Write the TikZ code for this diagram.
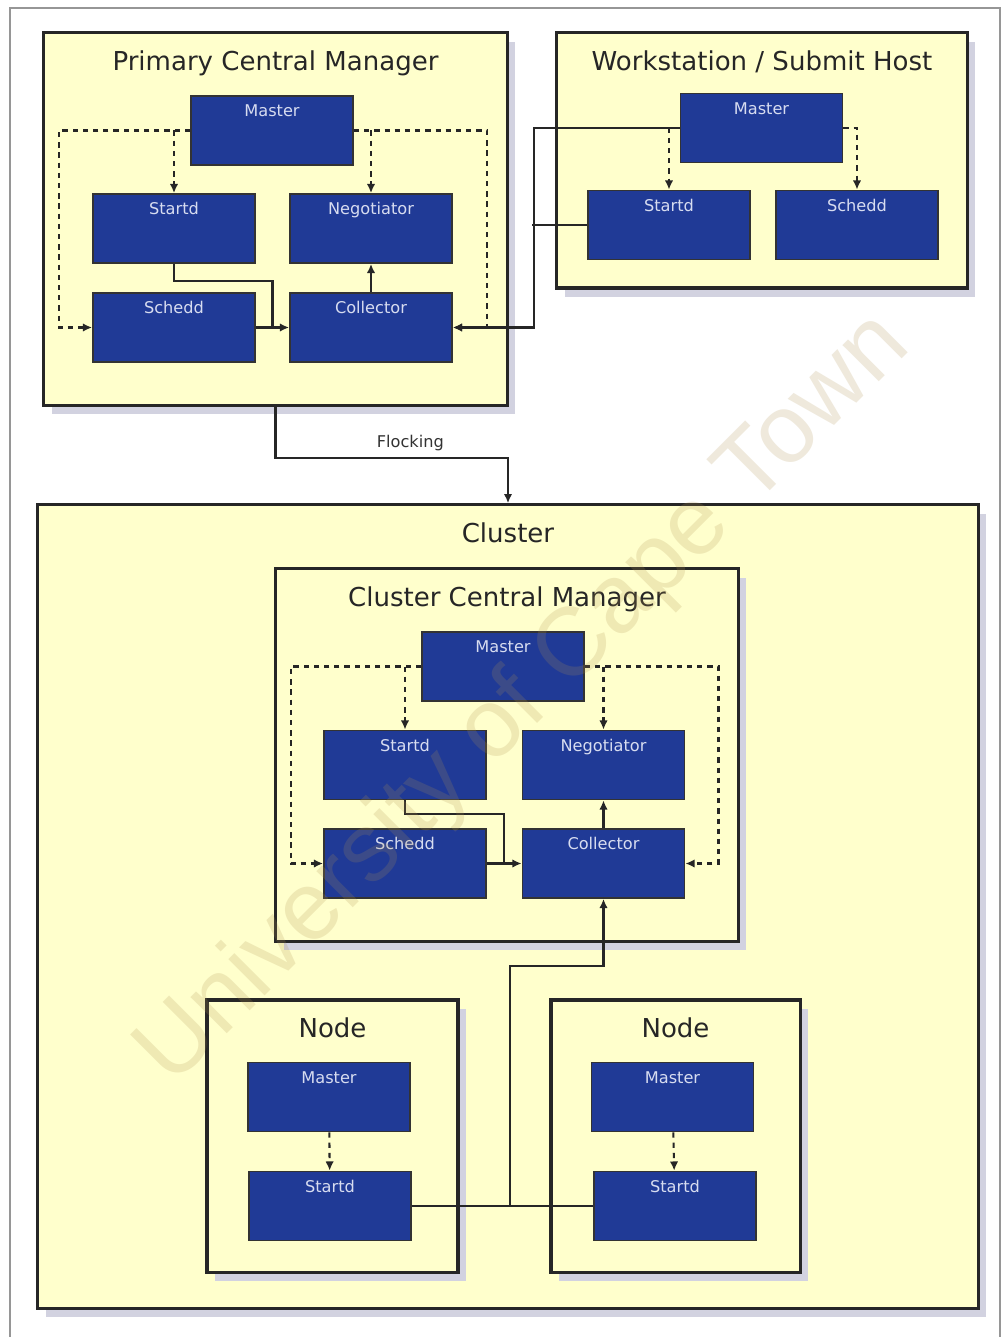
\documentclass[tikz,border=0pt]{standalone}
\usepackage{fontspec}
\setmainfont{DejaVu Sans}
\newfontfamily\wmfont{Liberation Sans}
\usetikzlibrary{arrows.meta,calc,positioning,shadows}

\definecolor{hostfill}{RGB}{255,255,204}
\definecolor{daemonfill}{RGB}{32,58,150}
\definecolor{daemontext}{RGB}{215,220,240}
\definecolor{shadowc}{RGB}{210,210,224}
\definecolor{framegray}{RGB}{150,150,150}
\definecolor{wmcolor}{RGB}{175,145,80}

\tikzset{
  host/.style={draw=black!85, line width=0.9pt, fill=hostfill, inner sep=0pt,
    drop shadow={shadow xshift=0.08cm, shadow yshift=-0.09cm, fill=shadowc, opacity=1}},
  hosttitle/.style={anchor=base, inner sep=0pt, text=black!85,
    font=\fontsize{7.4}{9}\selectfont},
  daemon/.style={draw=black!80, line width=0.5pt, fill=daemonfill, text=daemontext,
    minimum width=1.62cm, minimum height=0.69cm, inner sep=0pt,
    text height=0.17cm, text depth=0.44cm, font=\fontsize{4.6}{5}\selectfont},
  link/.style={line width=0.6pt, draw=black!85},
  ctl/.style={link, dash pattern=on 1.5pt off 1.4pt},
  flocklbl/.style={above, inner sep=1.5pt, text=black!80, font=\fontsize{4.6}{5}\selectfont}
}

\begin{document}
\begin{tikzpicture}[x=0.01cm,y=-0.01cm,>={Latex[length=2.6pt,width=2.4pt]}]
\useasboundingbox (0,0) rectangle (1006,1337);
\fill[white] (0,0) rectangle (1006,1337);
\draw[framegray, line width=0.6pt] (10,1345) |- (1000,8) -- (1000,1345);

% hosts
\node[host, minimum width=4.63cm, minimum height=3.72cm] (pcm) at (275.5,219) {};
\node[hosttitle] (pcmtitle) at ([yshift=-0.39cm]pcm.north) {Primary Central Manager};
\node[host, minimum width=4.10cm, minimum height=2.55cm] (ws) at (762,160.5) {};
\node[hosttitle] (wstitle) at ([yshift=-0.39cm]ws.north) {Workstation / Submit Host};
\node[host, minimum width=9.40cm, minimum height=8.03cm] (cluster) at (508,906.5) {};
\node[hosttitle] (clustertitle) at ([yshift=-0.39cm]cluster.north) {Cluster};
\node[host, minimum width=4.62cm, minimum height=3.72cm] (ccm) at (507,755) {};
\node[hosttitle] (ccmtitle) at ([yshift=-0.39cm]ccm.north) {Cluster Central Manager};
\node[host, minimum width=2.51cm, minimum height=2.72cm] (nodea) at (332.5,1136) {};
\node[hosttitle] (nodeatitle) at ([yshift=-0.39cm]nodea.north) {Node};
\node[host, minimum width=2.49cm, minimum height=2.72cm] (nodeb) at (675.5,1136) {};
\node[hosttitle] (nodebtitle) at ([yshift=-0.39cm]nodeb.north) {Node};

% primary central manager
\node[daemon] (pmaster) at (272,130.5) {Master};
\node[daemon] (pstartd) at (174,228.5) {Startd};
\node[daemon] (pnego) at (371,228.5) {Negotiator};
\node[daemon] (pschedd) at (174,327.5) {Schedd};
\node[daemon] (pcoll) at (371,327.5) {Collector};
\draw[ctl,->] (pmaster.west) -| ([xshift=-0.33cm]pschedd.west) -- (pschedd.west);
\draw[ctl,->] (pstartd.north |- pmaster.west) -- (pstartd.north);
\draw[ctl,->] (pmaster.east) -| ([xshift=0.34cm]pcoll.east) -- (pcoll.east);
\draw[ctl,->] (pnego.north |- pmaster.east) -- (pnego.north);
\draw[link] (pstartd.south) -- ++(0,17) -| ($(pschedd.east)!.5!(pcoll.west)$);
\draw[link,->] (pschedd.east) -- (pcoll.west);
\draw[link,->] (pcoll.north) -- (pnego.south);

% workstation
\node[daemon] (wmaster) at (761.5,128) {Master};
\node[daemon] (wstartd) at (669,225) {Startd};
\node[daemon] (wschedd) at (857,225) {Schedd};
\draw[ctl,->] (wmaster.west) -| (wstartd.north);
\draw[ctl,->] (wmaster.east) -| (wschedd.north);
\draw[link,->] (wmaster.west) -| ([xshift=0.81cm]pcoll.east) -- (pcoll.east);
\draw[link] (wstartd.west) -- ++(-55,0);

% flocking
\draw[link,->] (pcm.south) -- ++(0,51) -| node[flocklbl, pos=0.29] (flock) {Flocking} (cluster.north);

% cluster central manager
\node[daemon] (cmaster) at (503,666.5) {Master};
\node[daemon] (cstartd) at (405,765) {Startd};
\node[daemon] (cnego) at (603.5,765) {Negotiator};
\node[daemon] (cschedd) at (405,863.5) {Schedd};
\node[daemon] (ccoll) at (603.5,863.5) {Collector};
\draw[ctl,->] (cmaster.west) -| ([xshift=-0.32cm]cschedd.west) -- (cschedd.west);
\draw[ctl,->] (cstartd.north |- cmaster.west) -- (cstartd.north);
\draw[ctl,->] (cmaster.east) -| ([xshift=0.33cm]ccoll.east) -- (ccoll.east);
\draw[ctl,->] (cnego.north |- cmaster.east) -- (cnego.north);
\draw[link] (cstartd.south) -- ++(0,14) -| ($(cschedd.east)!.5!(ccoll.west)$);
\draw[link,->] (cschedd.east) -- (ccoll.west);
\draw[link,->] (ccoll.north) -- (cnego.south);

% execute nodes
\node[daemon] (amaster) at (329,1097) {Master};
\node[daemon] (astartd) at (330,1206) {Startd};
\node[daemon] (bmaster) at (672.5,1097) {Master};
\node[daemon] (bstartd) at (675,1206) {Startd};
\draw[ctl,->] (amaster) -- (astartd);
\draw[ctl,->] (bmaster) -- (bstartd);
\draw[link] (astartd.east) -- (bstartd.west);
\coordinate (join) at (510,1206);
\draw[link,->] (join) -- ++(0,-240) -| (ccoll.south);

\node[rotate=45, text=wmcolor, opacity=0.2, font=\wmfont\fontsize{27.6}{30}\selectfont] (wmark) at (525,700) {University of Cape Town};
\end{tikzpicture}
\end{document}
